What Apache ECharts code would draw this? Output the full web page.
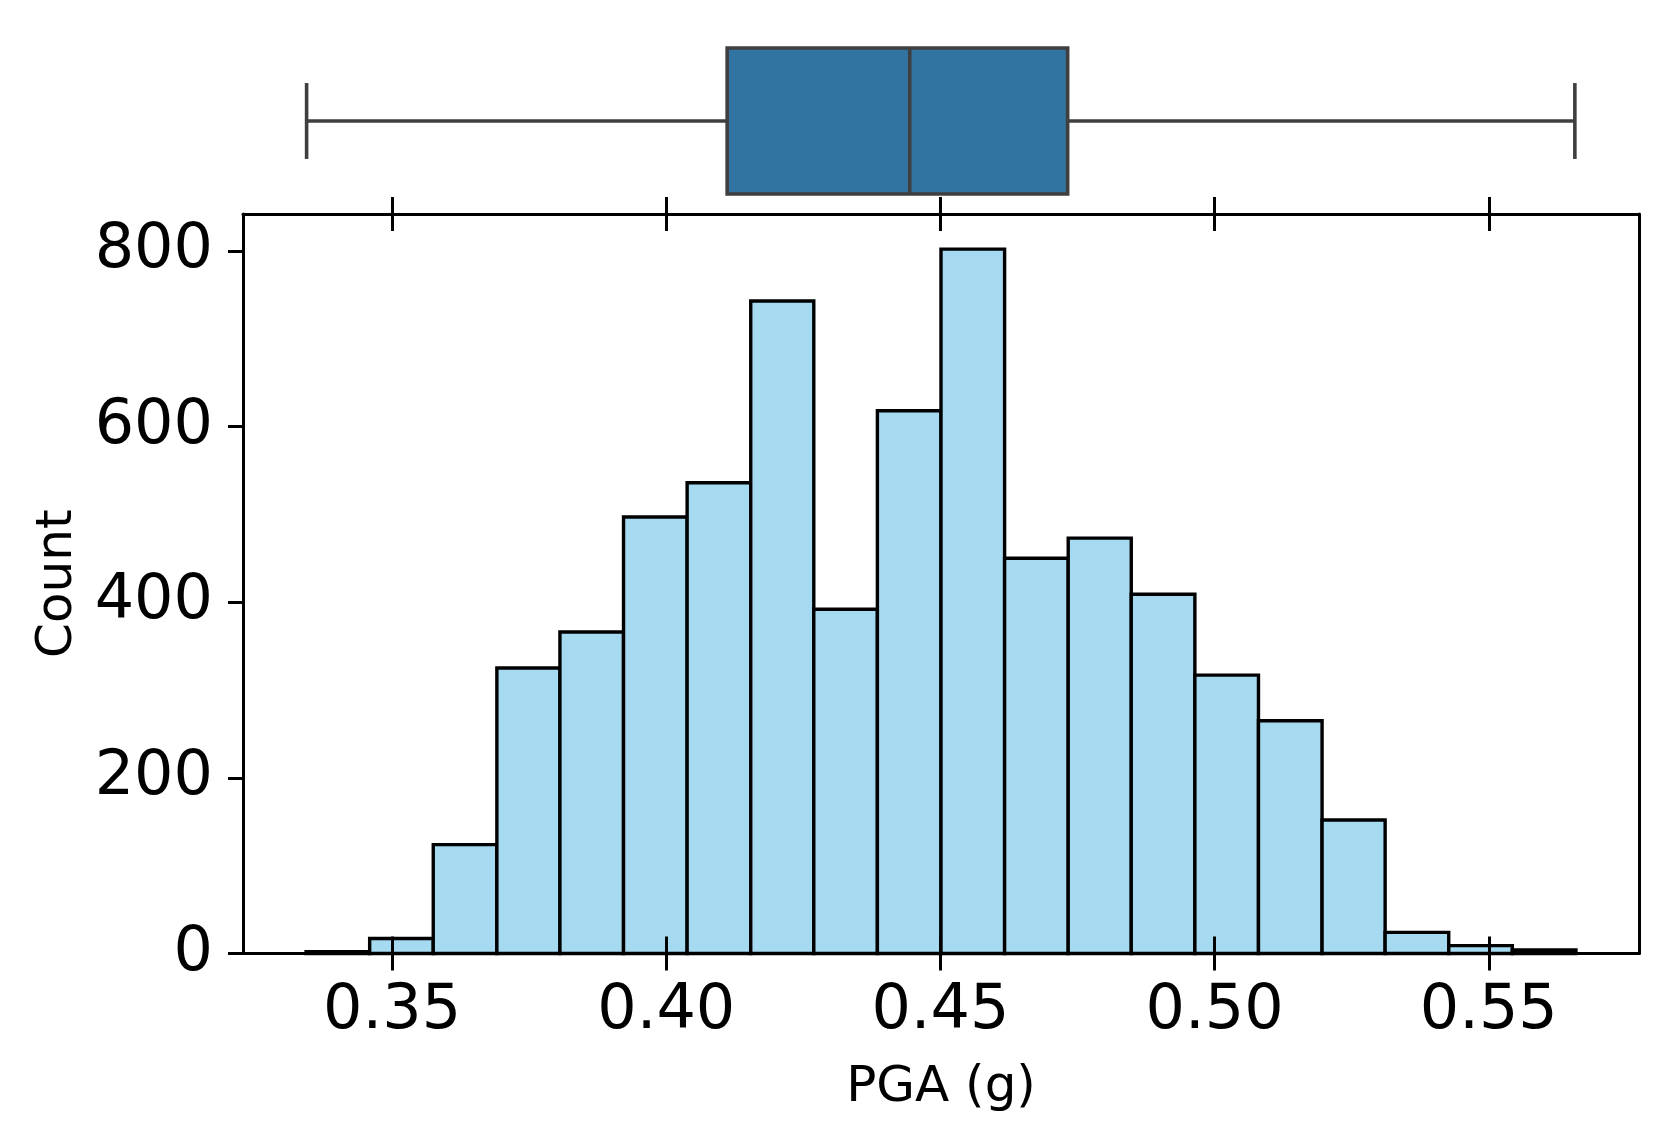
<!DOCTYPE html>
<html>
<head>
<meta charset="utf-8">
<script src="https://cdn.jsdelivr.net/npm/echarts@6/dist/echarts.min.js"></script>
<style>
html,body{margin:0;padding:0;background:#fff;}
#chart{width:1668px;height:1139px;}
</style>
</head>
<body>
<div id="chart"></div>
<script>
// histogram bins (PGA, g) and counts
var binEdges = [0.3343, 0.3459, 0.3575, 0.3691, 0.3806, 0.3922, 0.4038, 0.4154, 0.4269, 0.4385, 0.4501,
                0.4617, 0.4733, 0.4848, 0.4964, 0.5080, 0.5196, 0.5311, 0.5427, 0.5543, 0.5659];
var counts = [2, 17, 124, 325, 366, 497, 536, 743, 392, 618, 802, 450, 473, 409, 317, 265, 152, 24, 9, 4];
// min, q1, median, q3, max
var boxStats = [0.3344, 0.4111, 0.4444, 0.4732, 0.5657];
var xTicks = [0.35, 0.40, 0.45, 0.50, 0.55];
var yTicks = [0, 200, 400, 600, 800];
var xName = 'PGA (g)';
var yName = 'Count';

var FONT = 'DejaVu Sans';
var xMin = 0.3228, xMax = 0.5774, yMax = 842;

var histData = [];
for (var i = 0; i < counts.length; i++) {
    histData.push([binEdges[i], binEdges[i + 1], counts[i]]);
}

// x axis for the histogram grid; two per side so ticks go "in and out"
var xAx = function(pos, inside, line, labels) {
    return {
        type: 'value', gridIndex: 1, position: pos, min: xMin, max: xMax,
        z: inside ? 10 : 0,
        axisLine: {show: line, onZero: false, lineStyle: {color: '#000', width: 3}},
        axisTick: {show: true, inside: inside, length: 17, customValues: xTicks,
                   lineStyle: {color: '#000', width: 3}},
        axisLabel: {show: labels, customValues: xTicks, margin: 27, color: '#000',
                    fontFamily: FONT, fontSize: 62,
                    formatter: function(v){ return v.toFixed(2); }},
        splitLine: {show: false}
    };
};

var xAxes = [
    {type: 'value', gridIndex: 0, min: xMin, max: xMax, show: false, splitLine: {show: false}},
    xAx('bottom', false, true, true),
    xAx('bottom', true, false, false),
    xAx('top', false, true, false),
    xAx('top', true, false, false)
];
xAxes[1].name = xName;
xAxes[1].nameLocation = 'middle';
xAxes[1].nameGap = 110;
xAxes[1].nameTextStyle = {color: '#000', fontFamily: FONT, fontSize: 50};

var option = {
    animation: false,
    backgroundColor: '#fff',
    grid: [
        {left: 243, right: 29, top: 48, height: 146},
        {left: 243, right: 29, top: 214, bottom: 185.5}
    ],
    xAxis: xAxes,
    yAxis: [
        {type: 'value', gridIndex: 0, min: -0.5, max: 0.5, show: false, splitLine: {show: false}},
        {
            type: 'value', gridIndex: 1, position: 'left', min: 0, max: yMax,
            name: yName, nameLocation: 'middle', nameGap: 160,
            nameTextStyle: {color: '#000', fontFamily: FONT, fontSize: 50},
            axisLine: {show: true, onZero: false, lineStyle: {color: '#000', width: 3}},
            axisTick: {show: true, length: 15, customValues: yTicks, lineStyle: {color: '#000', width: 3}},
            axisLabel: {customValues: yTicks, margin: 30, color: '#000', fontFamily: FONT, fontSize: 62},
            splitLine: {show: false}
        },
        {
            type: 'value', gridIndex: 1, position: 'right', min: 0, max: yMax,
            axisLine: {show: true, onZero: false, lineStyle: {color: '#000', width: 3}},
            axisTick: {show: false}, axisLabel: {show: false}, splitLine: {show: false}
        }
    ],
    series: [
        {
            type: 'custom',
            xAxisIndex: 1, yAxisIndex: 1,
            encode: {x: [0, 1], y: 2},
            data: histData,
            renderItem: function(params, api) {
                var a = api.coord([api.value(0), api.value(2)]);
                var b = api.coord([api.value(1), 0]);
                return {
                    type: 'rect',
                    shape: {x: a[0], y: a[1], width: b[0] - a[0], height: b[1] - a[1]},
                    style: {fill: '#a6daf0', stroke: '#000', lineWidth: 3.4}
                };
            }
        },
        {
            type: 'custom',
            xAxisIndex: 0, yAxisIndex: 0,
            encode: {x: [0, 1, 2, 3, 4]},
            data: [boxStats],
            renderItem: function(params, api) {
                var x = function(i){ return api.coord([api.value(i), 0])[0]; };
                var y = function(v){ return api.coord([api.value(2), v])[1]; };
                var ls = {stroke: '#3f3f3f', lineWidth: 3.6};
                var yc = y(0), yt = y(0.5), yb = y(-0.5), ct = y(0.26), cb = y(-0.26);
                return {
                    type: 'group',
                    children: [
                        {type: 'line', shape: {x1: x(0), y1: yc, x2: x(1), y2: yc}, style: ls},
                        {type: 'line', shape: {x1: x(3), y1: yc, x2: x(4), y2: yc}, style: ls},
                        {type: 'line', shape: {x1: x(0), y1: ct, x2: x(0), y2: cb}, style: ls},
                        {type: 'line', shape: {x1: x(4), y1: ct, x2: x(4), y2: cb}, style: ls},
                        {type: 'rect', shape: {x: x(1), y: yt, width: x(3) - x(1), height: yb - yt},
                         style: {fill: '#3274a1', stroke: '#3f3f3f', lineWidth: 3.6}},
                        {type: 'line', shape: {x1: x(2), y1: yt, x2: x(2), y2: yb}, style: ls}
                    ]
                };
            }
        }
    ]
};

var myChart = echarts.init(document.getElementById('chart'));
myChart.setOption(option);
</script>
</body>
</html>
